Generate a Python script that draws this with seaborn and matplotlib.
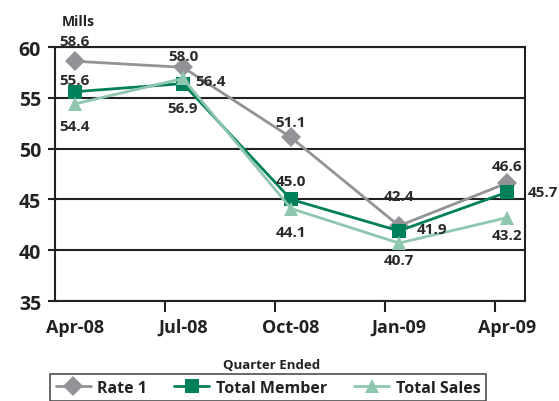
import pandas as pd
import matplotlib
matplotlib.use("Agg")
import matplotlib.pyplot as plt
import seaborn as sns

sns.set_theme(style="white")
plt.rcParams["font.family"] = ["Open Sans", "DejaVu Sans"]
plt.rcParams["font.weight"] = "bold"

quarters = ["Apr-08", "Jul-08", "Oct-08", "Jan-09", "Apr-09"]
rate_1 = [58.6, 58.0, 51.1, 42.4, 46.6]
total_member = [55.6, 56.4, 45.0, 41.9, 45.7]
total_sales = [54.4, 56.9, 44.1, 40.7, 43.2]
series_names = ["Rate 1", "Total Member", "Total Sales"]

rows = []
for name, vals in zip(series_names, [rate_1, total_member, total_sales]):
    for i, v in enumerate(vals):
        rows.append({"pos": i, "value": v, "series": name})
df = pd.DataFrame(rows)

colors = {"Rate 1": "#929297", "Total Member": "#00805a", "Total Sales": "#8fc7ae"}
markers = {"Rate 1": "D", "Total Member": "s", "Total Sales": "^"}

fig = plt.figure(figsize=(5.59, 4.02), dpi=100)
ax = fig.add_axes([55 / 559, 1 - 302 / 402, 470 / 559, 254 / 402])

sns.lineplot(data=df, x="pos", y="value", hue="series", style="series",
             palette=colors, markers=markers, dashes=False, linewidth=2,
             markersize=10, markeredgewidth=0, ax=ax, legend=True)

# label offsets in pixels (dx, dy) and alignment per point
offsets = {
    "Rate 1": [(0, 20, "center"), (0, 11, "center"), (0, 15, "center"),
               (0, 30, "center"), (0, 17, "center")],
    "Total Member": [(0, 12, "center"), (12, 3, "left"), (0, 18, "center"),
                     (18, 2, "left"), (21, 0, "left")],
    "Total Sales": [(0, -22, "center"), (0, -30, "center"), (0, -23, "center"),
                    (0, -17, "center"), (0, -17, "center")],
}
for name, vals in zip(series_names, [rate_1, total_member, total_sales]):
    for i, v in enumerate(vals):
        dx, dy, ha = offsets[name][i]
        ax.annotate(f"{v:.1f}", (i, v), xytext=(dx * 0.72, dy * 0.72),
                    textcoords="offset points", ha=ha, va="center",
                    fontsize=11, fontweight="bold", color="#2a2a2a",
                    annotation_clip=False)

ax.set_xlim(-0.185, 4.167)
ax.set_ylim(35, 60)
ax.set_yticks([35, 40, 45, 50, 55, 60])
ax.set_xticks(range(len(quarters)))
ax.set_xticklabels(quarters)
ax.set_xticks([0.833, 1.85, 2.87, 3.89], minor=True)
ax.tick_params(axis="x", which="major", length=0, pad=12, labelsize=13,
               labelcolor="#222222")
ax.tick_params(axis="x", which="minor", length=8, width=1.5, color="#222222",
               direction="out", bottom=True)
ax.tick_params(axis="y", length=5, width=1.5, color="#222222", pad=5,
               labelsize=14, labelcolor="#222222", left=True)
for lab in ax.get_xticklabels() + ax.get_yticklabels():
    lab.set_fontweight("bold")

ax.grid(axis="y", color="#222222", linewidth=1.5)
ax.set_axisbelow(True)
for sp in ax.spines.values():
    sp.set_color("#222222")
    sp.set_linewidth(1.5)
ax.set_xlabel("")
ax.set_ylabel("")

fig.text(62 / 559, 1 - 22 / 402, "Mills", fontsize=10, fontweight="bold",
         color="#222222", va="center", ha="left")
fig.text(272 / 559, 1 - 366 / 402, "Quarter Ended", fontsize=9.5,
         fontweight="bold", color="#222222", va="center", ha="center")

handles, labels = ax.get_legend_handles_labels()
ax.get_legend().remove()
leg = fig.legend(handles, labels, ncol=3, loc="upper left",
                 bbox_to_anchor=(50 / 559, 1 - 375 / 402),
                 frameon=True, fancybox=False, edgecolor="#222222",
                 fontsize=11.5, handlelength=2.2, columnspacing=1.7,
                 handletextpad=0.4, borderpad=0.35, borderaxespad=0)
leg.get_frame().set_linewidth(1.2)
for t in leg.get_texts():
    t.set_fontweight("bold")
    t.set_color("#222222")

fig.savefig("out.png", dpi=100)
